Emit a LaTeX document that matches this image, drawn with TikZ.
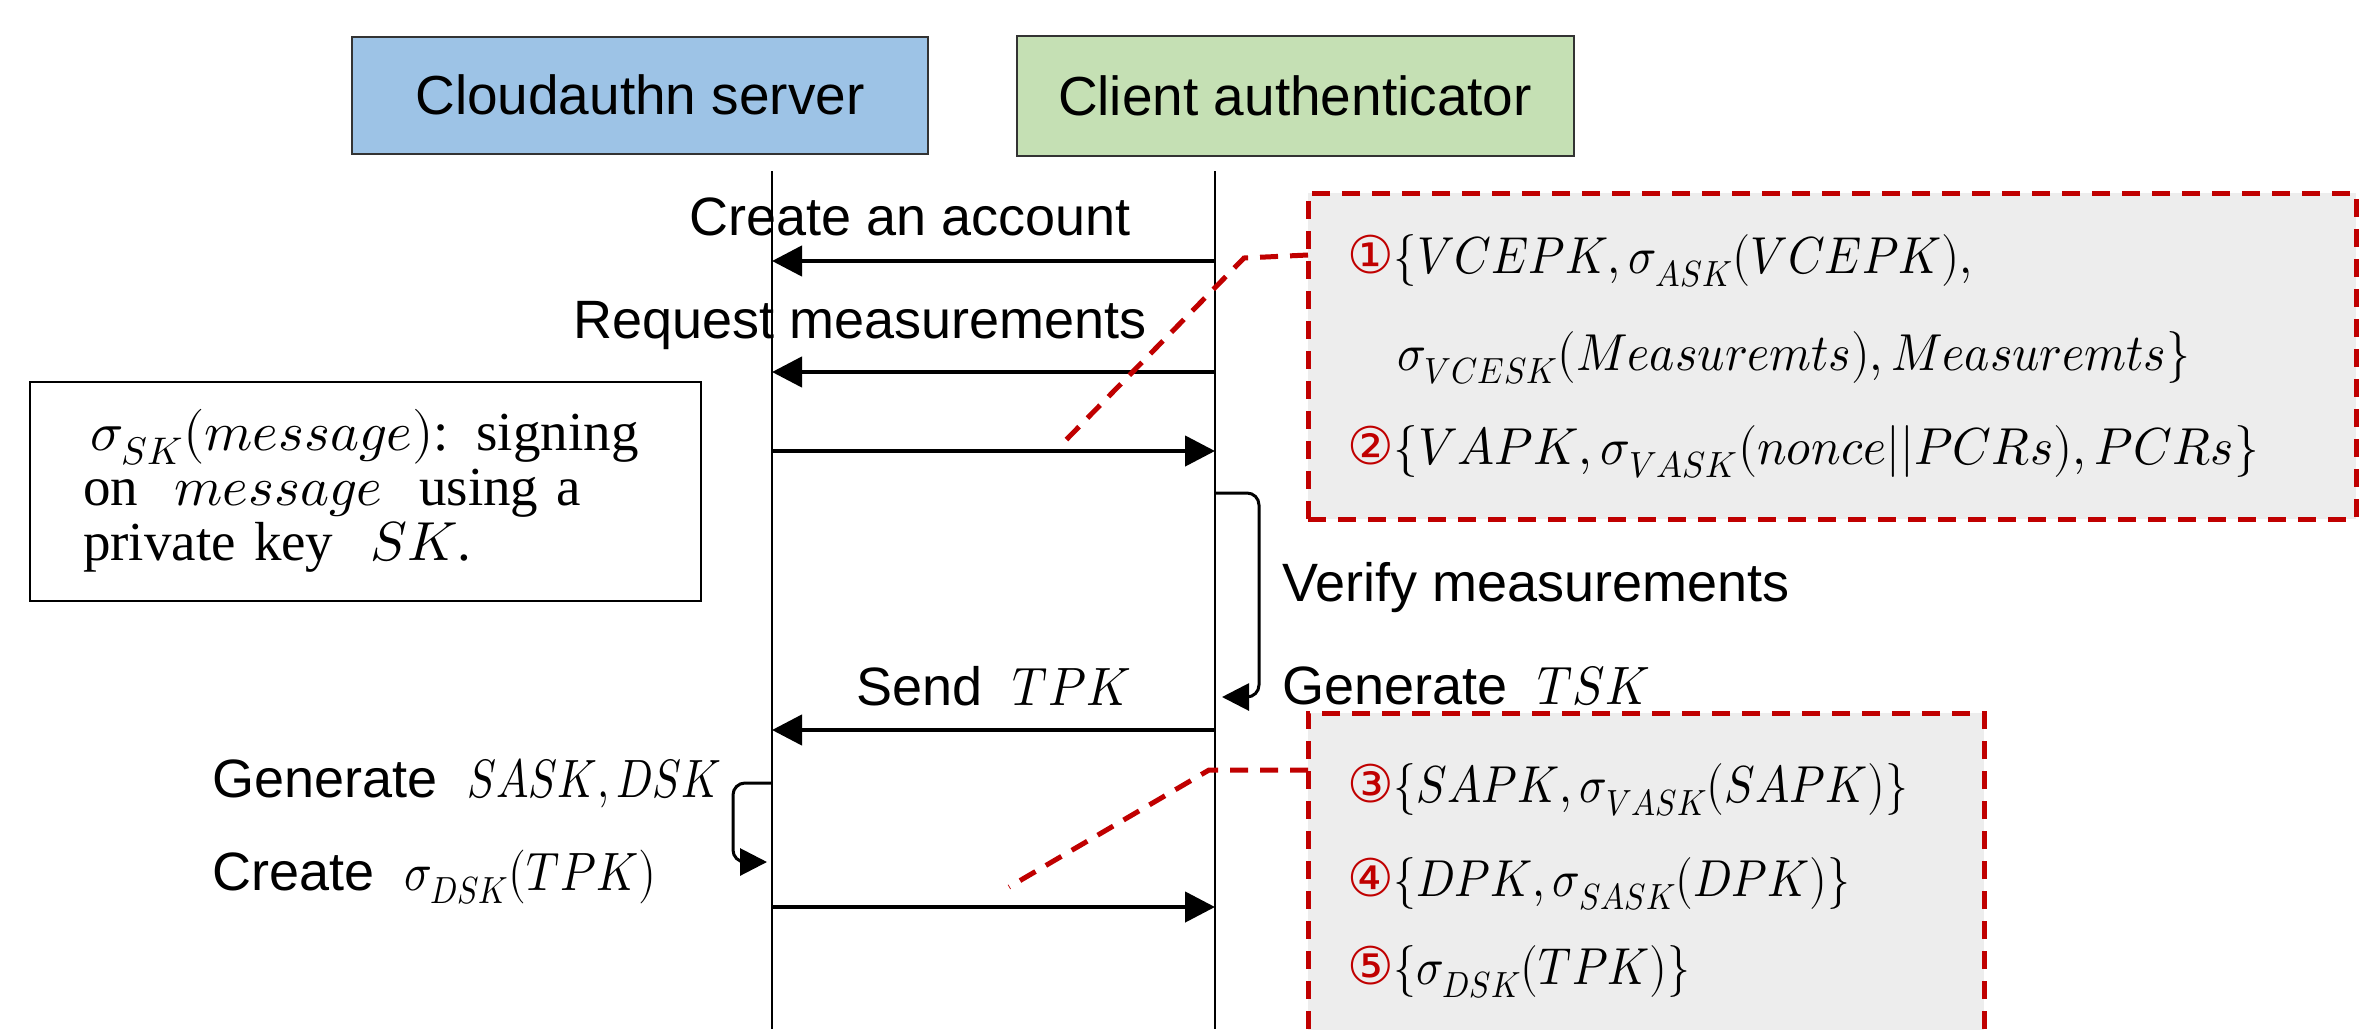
\documentclass[tikz,border=0pt]{standalone}
\usepackage{fontspec}
\usepackage{unicode-math}
\setmainfont{Liberation Sans}
\setmathfont{Latin Modern Math}
\newfontfamily\seriffont{Liberation Serif}
\newfontfamily\circfont{DejaVu Sans}
\usetikzlibrary{arrows.meta}
\definecolor{srvblue}{HTML}{9DC3E6}
\definecolor{cligreen}{HTML}{C5E0B4}
\definecolor{cred}{HTML}{C00000}
\definecolor{boxgray}{HTML}{EDEDED}
\newcommand{\cnum}[1]{{\circfont\color{cred}#1}}
\newcommand{\nar}[2][0.9]{\scalebox{#1}[1]{#2}}
\begin{document}
\begin{tikzpicture}[x=1pt,y=-1pt,
 actor/.style={draw=black!80, line width=2pt, font=\fontsize{55}{60}\selectfont, inner sep=0pt},
 life/.style={line width=1.6pt},
 msg/.style={line width=4.5pt, -{Triangle[length=30pt,width=30pt]}},
 selfmsg/.style={line width=3pt, rounded corners=12pt, -{Triangle[length=27pt,width=27pt]}},
 lbl/.style={font=\fontsize{54}{60}\selectfont, inner sep=0pt},
 redbox/.style={draw=cred, fill=boxgray, line width=5pt, dash pattern=on 18pt off 12pt, inner sep=0pt},
 redlink/.style={draw=cred, line width=5pt, dash pattern=on 18pt off 12pt},
 mline/.style={font=\fontsize{52}{56}\selectfont, inner sep=0pt, anchor=west},
 note/.style={draw, line width=2pt, inner sep=0pt, font=\seriffont\fontsize{55}{55}\selectfont, align=left, text width=640pt}
 ]
\useasboundingbox (0,0) rectangle (2379,1029);

% actors
\node[actor, fill=srvblue, minimum width=576pt, minimum height=117pt] (srv) at (640,95) {Cloudauthn server};
\node[actor, fill=cligreen, minimum width=557pt, minimum height=120pt] (cli) at (1295,96) {Client authenticator};

% lifelines
\coordinate (sTop) at (772,171);
\coordinate (sBot) at (772,1029);
\coordinate (cTop) at (1215,171);
\coordinate (cBot) at (1215,1029);
\draw[life] (sTop) -- (sBot);
\draw[life] (cTop) -- (cBot);

% red boxes (behind)
\node[redbox, minimum width=1048pt, minimum height=326pt] (rb1) at (1832,356) {};
\node[redbox, minimum width=676pt, minimum height=330pt] (rb2) at (1646,878) {};

% messages
\coordinate (c1) at (1215,261); \coordinate (s1) at (772,261);
\coordinate (c2) at (1215,372); \coordinate (s2) at (772,372);
\coordinate (s3) at (772,451);  \coordinate (c3) at (1215,451);
\coordinate (c4) at (1215,730); \coordinate (s4) at (772,730);
\coordinate (s5) at (772,907);  \coordinate (c5) at (1215,907);
\draw[msg] (c1) -- (s1);
\draw[msg] (c2) -- (s2);
\draw[msg] (s3) -- (c3);
\draw[msg] (c4) -- (s4);
\draw[msg] (s5) -- (c5);

\node[lbl] (l1) at (910,217) {Create an account};
\node[lbl] (l2) at (860,326) {Request measurements};
\node[lbl] (l4) at (994,686) {Send\ \ \nar{$TPK$}};

% client self message
\coordinate (cs1) at (1215,493);
\coordinate (cs2) at (1222,697);
\draw[selfmsg] (cs1) -- (1259,493) -- (1259,697) -- (cs2);
\node[lbl, anchor=west] (v1) at (1282,588) {Verify measurements};
\node[lbl, anchor=west] (v2) at (1282,686) {Generate\ \ \nar{$TSK$}};

% server self message
\coordinate (ss1) at (772,783);
\coordinate (ss2) at (767,862);
\draw[selfmsg] (ss1) -- (733,783) -- (733,862) -- (ss2);
\node[lbl, anchor=west] (g1) at (212,783) {Generate\ \ \nar[0.8]{$SASK,DSK$}};
\node[lbl, anchor=west] (g2) at (212,877) {Create\ \ \nar[0.85]{$\sigma_{DSK}(TPK)$}};

% note
\node[note, minimum width=671pt, minimum height=219pt] (nt) at (365,491)
 {\hspace*{45pt}$\sigma_{SK}(message)$: signing\\
  \hspace*{38pt}on\ \ $message$\ \ using a\\
  \hspace*{38pt}private key\ \ $SK$.};

% red box texts
\node[mline] (t1) at (1347,261) {\cnum{①}\nar[0.9]{$\{VCEPK,\sigma_{ASK}(VCEPK),$}};
\node[mline] (t2) at (1397,358) {\nar[0.92]{$\sigma_{VCESK}(Measuremts),Measuremts\}$}};
\node[mline] (t3) at (1347,452) {\cnum{②}\nar[0.95]{$\{VAPK,\sigma_{VASK}(nonce||PCRs),PCRs\}$}};
\node[mline] (t4) at (1347,790) {\cnum{③}\nar[0.88]{$\{SAPK,\sigma_{VASK}(SAPK)\}$}};
\node[mline] (t5) at (1347,884) {\cnum{④}\nar[0.88]{$\{DPK,\sigma_{SASK}(DPK)\}$}};
\node[mline] (t6) at (1347,972) {\cnum{⑤}\nar[0.88]{$\{\sigma_{DSK}(TPK)\}$}};

% red links
\coordinate (r1a) at (1308,255); \coordinate (r1b) at (1244,258); \coordinate (r1c) at (1066,440);
\draw[redlink] (r1a) -- (r1b) -- (r1c);
\coordinate (r2a) at (1308,770); \coordinate (r2b) at (1209,770); \coordinate (r2c) at (1009,887);
\draw[redlink] (r2a) -- (r2b) -- (r2c);
\end{tikzpicture}
\end{document}
